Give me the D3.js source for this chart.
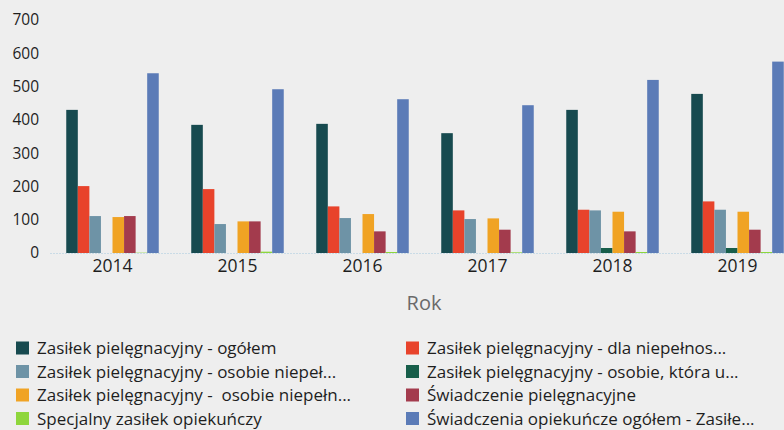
<!DOCTYPE html>
<html>
<head>
<meta charset="utf-8">
<script src="https://cdn.jsdelivr.net/npm/d3@7"></script>
<style>
  body { margin: 0; background: #eeeeee; }
  svg { display: block; font-family: "Open Sans", "Noto Sans", sans-serif; }
</style>
</head>
<body>
<svg id="chart" width="784" height="430"></svg>
<script>
// Set the categories (years)
const years = ["2014", "2015", "2016", "2017", "2018", "2019"];

// Series names (as shown, truncated, in the legend)
const seriesNames = [
  "Zasiłek pielęgnacyjny - ogółem",
  "Zasiłek pielęgnacyjny - dla niepełnos...",
  "Zasiłek pielęgnacyjny - osobie niepeł...",
  "Zasiłek pielęgnacyjny - osobie, która u...",
  "Zasiłek pielęgnacyjny -  osobie niepełn...",
  "Świadczenie pielęgnacyjne",
  "Specjalny zasiłek opiekuńczy",
  "Świadczenia opiekuńcze ogółem - Zasiłe..."
];

// Values, one array per series
const ogolem        = [430, 385, 388, 360, 430, 478];
const dlaNiepelnos  = [201, 192, 140, 128, 130, 155];
const osobieNiepel  = [111,  87, 105, 102, 128, 130];
const osobieKtora   = [  0,   0,   0,   0,  15,  15];
const osobieNiepeln = [108,  95, 117, 104, 124, 124];
const swiadczenie   = [111,  95,  65,  70,  65,  70];
const specjalny     = [  1,   4,   3,   2,   3,   3];
const opiekuncze    = [540, 492, 462, 444, 520, 575];

const seriesValues = [ogolem, dlaNiepelnos, osobieNiepel, osobieKtora,
  osobieNiepeln, swiadczenie, specjalny, opiekuncze];

const colors = ["#174a4f", "#e8432b", "#6e93a6", "#175e4a",
  "#f0a324", "#a33b4d", "#8ed63c", "#5b7bb7"];

// Legend order (two columns)
const legendOrder = [0, 1, 2, 3, 4, 5, 6, 7];

const svg = d3.select("#chart");

// set the scales
const x0 = d3.scaleBand()
  .domain(years)
  .range([50, 800])
  .paddingInner(0.26)
  .paddingOuter(0.13);

const x1 = d3.scaleBand()
  .domain(d3.range(seriesNames.length))
  .range([0, x0.bandwidth()]);

const y = d3.scaleLinear()
  .domain([0, 700])
  .range([253, 20]);

// Y axis labels
const yAxis = d3.axisLeft(y).tickValues([0, 100, 200, 300, 400, 500, 600, 700]).tickSize(0).tickPadding(0);
svg.append("g")
  .attr("transform", "translate(39,0)")
  .call(yAxis)
  .call(g => g.select(".domain").remove())
  .selectAll("text")
  .attr("font-size", 15.5)
  .attr("fill", "#1e1e1e")
  .attr("font-family", "Open Sans, Noto Sans, sans-serif");

// baseline
svg.append("line")
  .attr("x1", 50).attr("x2", 784)
  .attr("y1", y(0) + 0.5).attr("y2", y(0) + 0.5)
  .attr("stroke", "#c9dbe6")
  .attr("stroke-width", 1)
  .attr("stroke-dasharray", "2,1");

// bars
const groups = svg.append("g")
  .selectAll("g")
  .data(years)
  .join("g")
  .attr("transform", d => `translate(${x0(d)},0)`);

groups.selectAll("rect")
  .data((d, i) => seriesValues.map((vals, s) => ({ s: s, v: vals[i] })))
  .join("rect")
  .attr("x", d => x1(d.s))
  .attr("width", x1.bandwidth())
  .attr("y", d => y(d.v))
  .attr("height", d => y(0) - y(d.v))
  .attr("fill", d => colors[d.s]);

// X axis labels
const xAxis = d3.axisBottom(x0).tickSize(0).tickPadding(0);
svg.append("g")
  .attr("transform", `translate(0,${y(0) + 7})`)
  .call(xAxis)
  .call(g => g.select(".domain").remove())
  .selectAll("text")
  .attr("font-size", 17.5)
  .attr("fill", "#1e1e1e")
  .attr("font-family", "Open Sans, Noto Sans, sans-serif");

// Axis title
svg.append("text")
  .attr("x", 424)
  .attr("y", 310)
  .attr("text-anchor", "middle")
  .attr("font-size", 20)
  .attr("fill", "#6a6a6a")
  .text("Rok");

// Legend
const legend = svg.append("g")
  .selectAll("g")
  .data(legendOrder)
  .join("g")
  .attr("transform", (d, i) => `translate(${i % 2 === 0 ? 16 : 406},${340 + Math.floor(i / 2) * 23.5})`);

legend.append("rect")
  .attr("width", 13)
  .attr("height", 13)
  .attr("y", 1.5)
  .attr("fill", d => colors[d]);

legend.append("text")
  .attr("x", 21)
  .attr("y", 14)
  .attr("font-size", 17)
  .attr("fill", "#1e1e1e")
  .attr("xml:space", "preserve")
  .style("white-space", "pre")
  .text(d => seriesNames[d]);
</script>
</body>
</html>
